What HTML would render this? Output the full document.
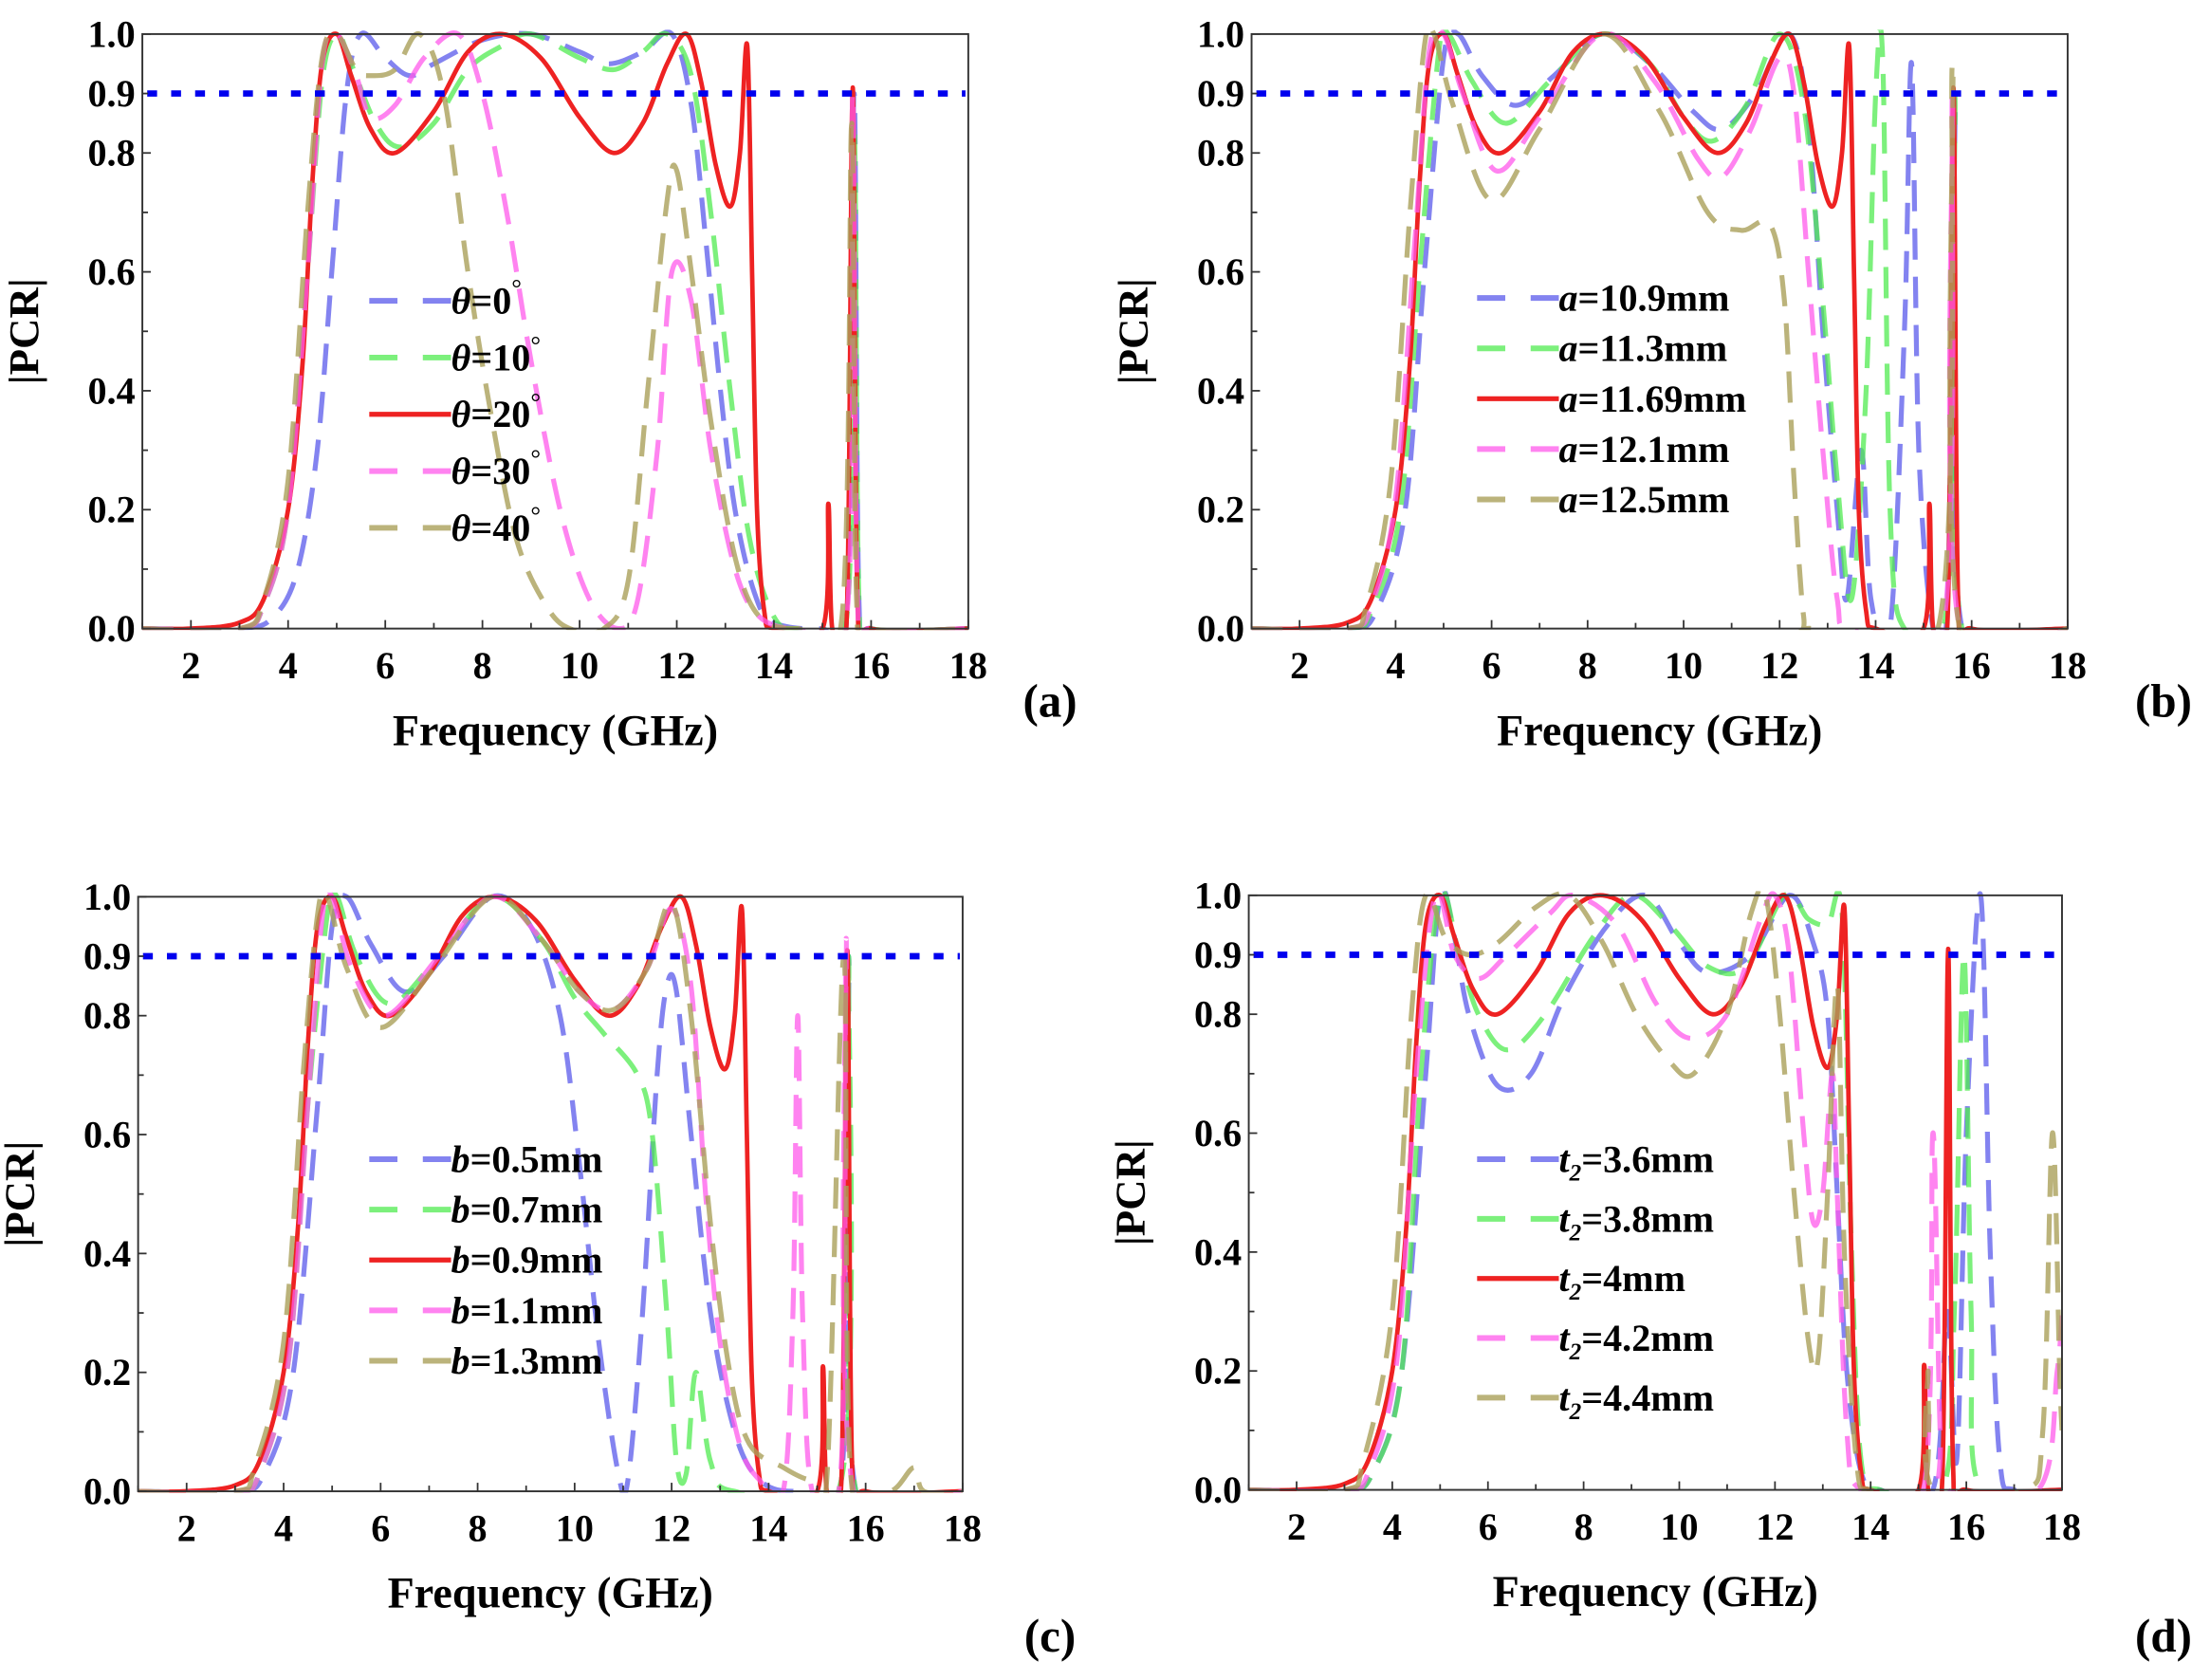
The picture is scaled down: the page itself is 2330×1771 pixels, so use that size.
<!DOCTYPE html>
<html><head><meta charset="utf-8"><style>
html,body{margin:0;padding:0;background:#fff;}
svg{display:block;}
text{font-family:"Liberation Serif",serif;font-weight:bold;fill:#000;}
</style></head><body>
<svg id="fig" width="2330" height="1771" viewBox="0 0 1568 1184" preserveAspectRatio="none" xmlns="http://www.w3.org/2000/svg"></svg>
<script>
// ---- data ----
const xTicks = [2,4,6,8,10,12,14,16,18];
const yTicks = [0.0,0.2,0.4,0.6,0.8,0.9,1.0];
const threshold = 0.9;
const redCurve = [[1,0],[2,0],[3,0.01],[3.5,0.05],[4,0.2],[4.3,0.45],[4.5,0.75],[4.7,0.95],[5,1.0],[5.3,0.93],[5.7,0.84],[6.2,0.8],[7,0.87],[7.7,0.97],[8.4,1.0],[9.2,0.96],[10,0.86],[10.7,0.8],[11.3,0.85],[11.8,0.95],[12.2,1.0],[12.5,0.92],[12.8,0.78],[13.1,0.71],[13.3,0.8],[13.45,0.98],[13.55,0.6],[13.65,0.2],[13.8,0.03],[14,0],[15,0],[15.12,0.21],[15.2,0],[15.5,0.02],[15.62,0.91],[15.72,0.05],[16,0],[18,0]];

const aLabels = ["0","10","20","30","40"];
const a0 = [[1,0],[3,0],[3.7,0.02],[4.2,0.1],[4.6,0.3],[4.9,0.6],[5.2,0.9],[5.5,1.0],[6.0,0.96],[6.5,0.93],[7,0.95],[8,0.99],[9,1.0],[10,0.97],[10.6,0.95],[11.3,0.97],[11.9,1.0],[12.3,0.88],[12.6,0.65],[12.9,0.4],[13.2,0.2],[13.6,0.06],[14,0.01],[15,0],[15.5,0.02],[15.65,0.9],[15.75,0.05],[16,0],[18,0]];
const a10 = [[1,0],[3,0],[3.5,0.04],[4,0.2],[4.4,0.6],[4.7,0.92],[5.0,1.0],[5.3,0.95],[5.8,0.85],[6.3,0.81],[7,0.85],[7.7,0.94],[8.4,0.98],[9,1.0],[10,0.96],[10.7,0.94],[11.3,0.97],[11.8,1.0],[12.3,0.93],[12.7,0.7],[13.1,0.4],[13.5,0.15],[14,0.02],[14.5,0],[15.5,0.02],[15.65,0.85],[15.75,0.05],[16,0],[18,0]];
const a30 = [[1,0],[3,0],[3.5,0.04],[4,0.2],[4.4,0.6],[4.7,0.95],[5.0,1.0],[5.4,0.93],[5.7,0.86],[6.2,0.88],[6.8,0.96],[7.5,1.0],[8,0.9],[8.5,0.7],[9.0,0.45],[9.6,0.2],[10.2,0.05],[10.8,0.0],[11.2,0.05],[11.6,0.3],[11.9,0.6],[12.3,0.55],[12.7,0.3],[13.2,0.1],[13.7,0.02],[14.5,0],[15.5,0.02],[15.62,0.9],[15.72,0.05],[16,0],[18,0]];
const a40 = [[1,0],[3,0],[3.5,0.05],[4,0.25],[4.4,0.7],[4.7,0.96],[5.0,1.0],[5.4,0.94],[5.7,0.93],[6.2,0.94],[6.7,1.0],[7.2,0.9],[7.7,0.6],[8.2,0.35],[8.7,0.15],[9.3,0.04],[9.8,0],[10.5,0],[11,0.08],[11.4,0.4],[11.8,0.72],[12.0,0.77],[12.3,0.6],[12.7,0.35],[13.2,0.12],[13.7,0.02],[14.5,0],[15.4,0.02],[15.6,0.85],[15.7,0.05],[16,0],[18,0]];

const bLabels = ["10.9mm","11.3mm","11.69mm","12.1mm","12.5mm"];
const b109 = [[1,0],[3,0],[3.6,0.03],[4.2,0.2],[4.6,0.6],[5.0,0.96],[5.3,1.0],[5.8,0.93],[6.5,0.88],[7.3,0.93],[8.3,1.0],[9.3,0.95],[10.2,0.87],[10.8,0.84],[11.5,0.9],[12.2,1.0],[12.6,0.85],[12.9,0.5],[13.2,0.2],[13.4,0.05],[13.7,0.3],[13.9,0.05],[14.3,0.0],[14.6,0.5],[14.75,0.95],[14.9,0.3],[15.2,0],[15.5,0.05],[15.65,0.9],[15.8,0],[18,0]];
const b113 = [[1,0],[3,0],[3.5,0.03],[4.1,0.2],[4.5,0.6],[4.9,0.97],[5.1,1.0],[5.6,0.92],[6.3,0.85],[7.2,0.92],[8.3,1.0],[9.3,0.95],[10,0.86],[10.6,0.82],[11.3,0.88],[12,1.0],[12.5,0.88],[12.9,0.55],[13.2,0.25],[13.5,0.05],[13.8,0.4],[14.0,0.9],[14.15,0.95],[14.3,0.2],[14.6,0],[15.5,0.05],[15.65,0.9],[15.8,0],[18,0]];
const b121 = [[1,0],[3,0],[3.5,0.04],[4,0.22],[4.4,0.65],[4.7,0.97],[5.0,1.0],[5.4,0.9],[6.1,0.77],[7,0.86],[8.3,1.0],[9.4,0.92],[10.3,0.79],[10.8,0.76],[11.4,0.84],[12.0,0.96],[12.3,0.9],[12.6,0.6],[12.9,0.3],[13.2,0.05],[13.5,0],[15.4,0],[15.6,0.9],[15.75,0],[18,0]];
const b125 = [[1,0],[3,0],[3.4,0.04],[3.9,0.25],[4.3,0.7],[4.6,0.98],[4.8,1.0],[5.2,0.88],[6.0,0.72],[7,0.84],[8.3,1.0],[9.5,0.87],[10.5,0.7],[11.2,0.67],[11.8,0.68],[12.1,0.55],[12.3,0.25],[12.5,0.02],[12.7,0],[15.3,0],[15.6,0.95],[15.75,0],[18,0]];

const cLabels = ["0.5mm","0.7mm","0.9mm","1.1mm","1.3mm"];
const c05 = [[1,0],[3,0],[3.6,0.03],[4.2,0.2],[4.7,0.65],[5.0,0.95],[5.3,1.0],[5.8,0.92],[6.5,0.84],[7.3,0.9],[8.3,1.0],[9.1,0.95],[9.7,0.8],[10.1,0.55],[10.5,0.25],[10.9,0.03],[11.1,0.02],[11.4,0.3],[11.7,0.7],[11.9,0.85],[12.1,0.84],[12.4,0.6],[12.8,0.3],[13.3,0.1],[13.8,0.02],[14.5,0],[15.5,0.02],[15.65,0.9],[15.8,0],[18,0]];
const c07 = [[1,0],[3,0],[3.5,0.03],[4.1,0.22],[4.5,0.65],[4.9,0.97],[5.1,1.0],[5.5,0.9],[6.2,0.82],[7.2,0.9],[8.3,1.0],[9.3,0.93],[10,0.83],[10.6,0.77],[11.3,0.7],[11.6,0.6],[11.9,0.3],[12.1,0.05],[12.3,0.03],[12.5,0.2],[12.8,0.05],[13.3,0],[15.5,0.02],[15.65,0.9],[15.8,0],[18,0]];
const c11 = [[1,0],[3,0],[3.5,0.03],[4.1,0.22],[4.5,0.65],[4.8,0.97],[5.0,1.0],[5.4,0.88],[6.1,0.8],[7.2,0.9],[8.3,1.0],[9.3,0.93],[10.1,0.84],[10.8,0.81],[11.5,0.88],[12.0,0.98],[12.4,0.85],[12.7,0.5],[13.0,0.25],[13.4,0.08],[13.8,0.02],[14.3,0.0],[14.5,0.3],[14.6,0.8],[14.7,0.3],[14.9,0],[15.5,0.05],[15.6,0.93],[15.75,0],[18,0]];
const c13 = [[1,0],[3,0],[3.4,0.04],[4.0,0.25],[4.4,0.7],[4.7,0.97],[4.9,1.0],[5.3,0.88],[6.0,0.78],[7.1,0.88],[8.3,1.0],[9.3,0.93],[10.1,0.84],[10.8,0.81],[11.5,0.88],[12.0,0.99],[12.4,0.8],[12.8,0.45],[13.2,0.2],[13.6,0.08],[14.3,0.04],[14.8,0.02],[15.2,0.02],[15.55,0.9],[15.7,0.02],[16.5,0],[17,0.04],[17.2,0],[18,0]];

const dLabels = ["3.6mm","3.8mm","4mm","4.2mm","4.4mm"];
const d36 = [[1,0],[3,0],[3.6,0.03],[4.2,0.2],[4.7,0.7],[5.0,1.0],[5.3,0.93],[5.6,0.8],[6.2,0.68],[6.9,0.7],[7.6,0.83],[8.5,0.95],[9.3,1.0],[10,0.92],[10.6,0.87],[11.5,0.9],[12.3,1.0],[12.8,0.92],[13.1,0.8],[13.3,0.5],[13.5,0.2],[13.8,0.03],[14.2,0],[15.3,0],[15.6,0.3],[15.8,0.05],[16.0,0.6],[16.3,1.0],[16.5,0.4],[16.7,0.05],[17,0],[18,0]];
const d38 = [[1,0],[3,0],[3.6,0.03],[4.2,0.2],[4.6,0.7],[5.0,1.0],[5.4,0.9],[5.8,0.8],[6.4,0.74],[7.2,0.8],[8.2,0.93],[9.0,1.0],[9.8,0.95],[10.6,0.88],[11.4,0.88],[12.2,1.0],[12.7,0.96],[13.1,0.95],[13.4,0.97],[13.6,0.4],[13.8,0.05],[14.2,0],[15.5,0],[15.75,0.3],[15.95,0.9],[16.1,0.3],[16.3,0],[18,0]];
const d42 = [[1,0],[3,0],[3.5,0.03],[4.1,0.22],[4.5,0.7],[4.9,1.0],[5.3,0.9],[5.8,0.86],[6.4,0.9],[7.3,0.97],[7.8,1.0],[8.7,0.95],[9.5,0.82],[10.2,0.76],[11,0.8],[11.7,0.96],[12.0,1.0],[12.3,0.9],[12.6,0.6],[12.8,0.45],[13.0,0.5],[13.2,0.7],[13.3,0.5],[13.5,0.1],[13.8,0],[15.1,0],[15.3,0.6],[15.45,0.1],[15.6,0],[17.5,0],[17.9,0.2],[18,0.3]];
const d44 = [[1,0],[3,0],[3.4,0.05],[4.0,0.3],[4.4,0.8],[4.7,1.0],[5.1,0.93],[5.6,0.9],[6.2,0.92],[7,0.98],[7.7,1.0],[8.4,0.92],[9.1,0.8],[9.8,0.72],[10.3,0.7],[11,0.8],[11.5,0.97],[11.8,1.0],[12.1,0.8],[12.4,0.5],[12.7,0.25],[12.9,0.22],[13.1,0.5],[13.3,0.85],[13.45,0.4],[13.7,0.05],[14,0],[15.1,0],[15.2,0.2],[15.3,0],[17.2,0],[17.6,0.1],[17.8,0.6],[17.95,0.2],[18,0.1]];

// ---- drawing ----
const NS="http://www.w3.org/2000/svg";
const svg=document.getElementById('fig');
function mk(tag,attrs,parent){const e=document.createElementNS(NS,tag);for(const k in attrs)e.setAttribute(k,attrs[k]);(parent||svg).appendChild(e);return e;}
const colors=["rgba(90,90,235,0.75)","rgba(80,235,80,0.75)","#ee2222","rgba(255,90,235,0.75)","rgba(170,160,90,0.8)"];

function smoothPath(pts){
  let d='M'+pts[0][0].toFixed(1)+','+pts[0][1].toFixed(1);
  for(let i=0;i<pts.length-1;i++){
    const p0=pts[Math.max(0,i-1)],p1=pts[i],p2=pts[i+1],p3=pts[Math.min(pts.length-1,i+2)];
    const c1x=p1[0]+(p2[0]-p0[0])/6,c1y=p1[1]+(p2[1]-p0[1])/6;
    const c2x=p2[0]-(p3[0]-p1[0])/6,c2y=p2[1]-(p3[1]-p1[1])/6;
    d+=` C${c1x.toFixed(1)},${c1y.toFixed(1)} ${c2x.toFixed(1)},${c2y.toFixed(1)} ${p2[0].toFixed(1)},${p2[1].toFixed(1)}`;
  }
  return d;
}

function panel(id,box,series,prefix,labels,leg,tag){
  const g=mk('g',{});
  
  
  const [L,R,T,B]=box;
  const sx=v=>L+(v-1)/(17)*(R-L);
  const sy=v=>B-v*(B-T);
  const clipId='clip'+id;
  const cp=mk('clipPath',{id:clipId},g);mk('rect',{x:L,y:T-3,width:R-L,height:B-T+4},cp);
  series.forEach((s,i)=>{
    const p=mk('path',{d:smoothPath(s.map(d=>[sx(d[0]),sy(d[1])])),fill:'none',stroke:colors[i],'stroke-width':i==2?3.2:3.5,'stroke-dasharray':i==2?'none':'22 12','clip-path':'url(#'+clipId+')','stroke-linejoin':'round'},g);
    
    
  });
  const th=mk('line',{x1:sx(1.1),x2:R-2,y1:sy(threshold),y2:sy(threshold),stroke:'#0000ee','stroke-width':4.5,'stroke-dasharray':'7 10'},g);
  
  
  const fr=mk('rect',{x:L,y:T,width:R-L,height:B-T,fill:'none',stroke:'#333','stroke-width':1.3},g);
  
  
  for(let v=1;v<=18;v++){mk('line',{x1:sx(v),x2:sx(v),y1:B,y2:B-(v%2==0?6:4),stroke:'#333','stroke-width':1.2},g);}
  xTicks.forEach(v=>{const t=mk('text',{x:sx(v),y:B+35,'text-anchor':'middle','font-size':27},g);t.textContent=v;
    
    });
  for(let k=0;k<=10;k++){const v=k/10;mk('line',{x1:L,x2:L+(k%2==0?6:4),y1:sy(v),y2:sy(v),stroke:'#333','stroke-width':1.2},g);}
  yTicks.forEach(v=>{const t=mk('text',{x:L-5,y:sy(v)+9,'text-anchor':'end','font-size':27},g);t.textContent=v.toFixed(1);
    
    });
  const yt=mk('text',{x:0,y:0,'text-anchor':'middle','font-size':30,transform:`translate(${L-74},${(T+B)/2}) rotate(-90)`},g);yt.textContent='|PCR|';
  
  
  const xt=mk('text',{x:(L+R)/2,y:B+82,'text-anchor':'middle','font-size':31},g);xt.textContent='Frequency (GHz)';
  
  
  const pl=mk('text',{x:tag[0],y:tag[1],'text-anchor':'middle','font-size':33},g);pl.textContent='('+id+')';
  
  
  labels.forEach((lb,i)=>{
    const y=leg[1]+i*leg[2];
    const ln=mk('line',{x1:leg[0],x2:leg[0]+58,y1:y,y2:y,stroke:colors[i],'stroke-width':i==2?3.5:4,'stroke-dasharray':i==2?'none':'20 18'},g);
    
    
    const t=mk('text',{x:leg[0]+58,y:y+9,'font-size':27},g);
    
    
    const v=mk('tspan',{'font-style':'italic'},t);v.textContent=prefix;
    if(prefix==='t'){const s=mk('tspan',{'font-style':'italic','font-size':17,dy:6},t);s.textContent='2';const r=mk('tspan',{dy:-6},t);r.textContent='='+lb;}
    else if(prefix==='θ'){const r=mk('tspan',{},t);r.textContent='='+lb;const s=mk('tspan',{'font-size':18,dy:-12,'font-weight':'normal'},t);s.textContent='°';}
    else{const r=mk('tspan',{},t);r.textContent='='+lb;}
  });
}
panel('a',[101,687,24,443],[a0,a10,redCurve,a30,a40],'θ',aLabels,[262,212,40],[745,505]);
panel('b',[888,1467,24,443],[b109,b113,redCurve,b121,b125],'a',bLabels,[1048,210,35.5],[1535,505]);
panel('c',[98,683,632,1051],[c05,c07,redCurve,c11,c13],'b',cLabels,[262,817,35.5],[745,1164]);
panel('d',[886,1463,631,1050],[d36,d38,redCurve,d42,d44],'t',dLabels,[1048,817,42],[1535,1164]);
</script>
</body></html>
